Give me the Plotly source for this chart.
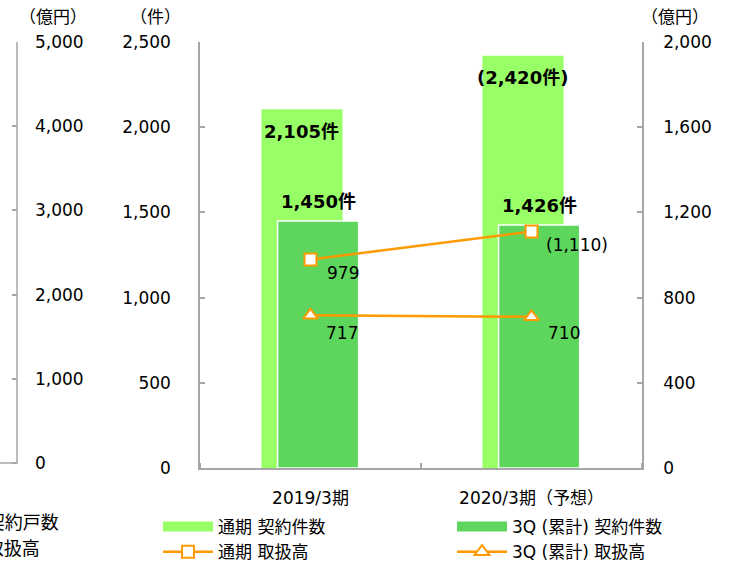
import plotly.graph_objects as go

# ---- data ----
categories = ["2019/3期", "2020/3期（予想）"]
full_counts = [2105, 2420]          # 通期 契約件数 (件)
q3_counts = [1450, 1426]            # 3Q(累計) 契約件数 (件)
full_amount = [979, 1110]           # 通期 取扱高 (億円)
q3_amount = [717, 710]              # 3Q(累計) 取扱高 (億円)
full_count_labels = ["2,105件", "(2,420件)"]
q3_count_labels = ["1,450件", "1,426件"]
full_amount_labels = ["979", "(1,110)"]
q3_amount_labels = ["717", "710"]
left_axis_ticks = [0, 1000, 2000, 3000, 4000, 5000]

W, H = 741, 561
L_PX, R_PX, T_PX, B_PX = 200, 642, 42, 468
FONT = "DejaVu Sans, Noto Sans CJK JP, sans-serif"
LIGHT = "#99FF66"
DARK = "#5ED65E"
ORANGE = "#FF9900"
AXIS = "#A6A6A6"

xs = list(range(len(categories)))
bw = 0.367
light_off = -0.222
dark_off = -0.149
light_c = light_off + bw / 2
dark_c = dark_off + bw / 2

fig = go.Figure()
# legend-only entries for bars (wide swatches)
fig.add_trace(go.Scatter(x=[None], y=[None], mode="lines", name="通期 契約件数",
                         line=dict(color=LIGHT, width=13), legendrank=1, hoverinfo="skip"))
fig.add_trace(go.Scatter(x=[None], y=[None], mode="lines", name="3Q (累計) 契約件数",
                         line=dict(color=DARK, width=13), legendrank=2, hoverinfo="skip"))
fig.add_trace(go.Bar(x=xs, y=full_counts, width=bw, offset=light_off,
                     marker=dict(color=LIGHT, line=dict(width=0)), showlegend=False))
fig.add_trace(go.Bar(x=xs, y=q3_counts, width=bw, offset=dark_off,
                     marker=dict(color=DARK, line=dict(color="white", width=1.5)), showlegend=False))
fig.add_trace(go.Scatter(x=xs, y=full_amount, yaxis="y2", mode="lines+markers", name="通期 取扱高",
                         line=dict(color=ORANGE, width=2.5), legendrank=3,
                         marker=dict(symbol="square", size=12, color="white",
                                     line=dict(color=ORANGE, width=2))))
fig.add_trace(go.Scatter(x=xs, y=q3_amount, yaxis="y2", mode="lines+markers", name="3Q (累計) 取扱高",
                         line=dict(color=ORANGE, width=2.5), legendrank=4,
                         marker=dict(symbol="triangle-up", size=13, color="white",
                                     line=dict(color=ORANGE, width=2))))
fig.add_trace(go.Scatter(x=[None], y=[None], yaxis="y3", showlegend=False, hoverinfo="skip"))

ann = []
tf = dict(family=FONT, size=18, color="black")
for i in xs:
    ann.append(dict(x=i + light_c, y=full_counts[i], text="<b>%s</b>" % full_count_labels[i],
                    showarrow=False, xanchor="center", yanchor="middle", yshift=-22, font=tf))
    ann.append(dict(x=i + dark_c, y=q3_counts[i], text="<b>%s</b>" % q3_count_labels[i],
                    showarrow=False, xanchor="center", yanchor="bottom", yshift=7, font=tf))
nf = dict(family=FONT, size=17, color="black")
shifts_full = [(14, -14), (12, -13)]
shifts_q3 = [(13, -18), (14, -16)]
for i in xs:
    ann.append(dict(x=i, y=full_amount[i], yref="y2", text=full_amount_labels[i], showarrow=False,
                    xanchor="left", yanchor="middle", xshift=shifts_full[i][0], yshift=shifts_full[i][1], font=nf))
    ann.append(dict(x=i, y=q3_amount[i], yref="y2", text=q3_amount_labels[i], showarrow=False,
                    xanchor="left", yanchor="middle", xshift=shifts_q3[i][0], yshift=shifts_q3[i][1], font=nf))

def px2x(px):
    return px / W

def py2y(py):
    return (B_PX - py) / (B_PX - T_PX)

# axis unit titles
for cx, txt in [(53, "（億円）"), (155, "（件）"), (675, "（億円）")]:
    ann.append(dict(x=px2x(cx), y=py2y(17), xref="paper", yref="paper", text=txt, showarrow=False,
                    xanchor="center", yanchor="middle", font=nf))
# cut-off legend fragments of neighbouring chart
for rx, py, txt in [(61, 522, "通期 契約戸数"), (42, 548, "通期 取扱高")]:
    ann.append(dict(x=px2x(rx), y=py2y(py), xref="paper", yref="paper", text=txt, showarrow=False,
                    xanchor="right", yanchor="middle", font=dict(family=FONT, size=18, color="black")))

shapes = [dict(type="path", xref="paper", yref="paper",
               path="M 0,%f L %f,%f L %f,1" % (py2y(463), px2x(17), py2y(463), px2x(17)),
               line=dict(color=AXIS, width=1.5))]

axis_common = dict(showline=True, linecolor=AXIS, linewidth=1.5, ticks="inside", ticklen=5,
                   tickcolor=AXIS, tickwidth=1.5, showgrid=False, zeroline=False,
                   tickfont=dict(family=FONT, size=17, color="black"), tickformat=",")

fig.update_layout(
    width=W, height=H,
    margin=dict(l=0, r=0, t=T_PX, b=H - B_PX, pad=0, autoexpand=False),
    paper_bgcolor="white", plot_bgcolor="white",
    barmode="overlay",
    showlegend=True,
    legend=dict(orientation="h", x=px2x(158), xanchor="left", y=py2y(509), yanchor="top",
                itemwidth=50, entrywidth=229, entrywidthmode="pixels",
                font=dict(family=FONT, size=17, color="black"), bgcolor="rgba(0,0,0,0)"),
    xaxis=dict(domain=[L_PX / W, R_PX / W], range=[-0.5, 1.5], tickvals=xs, ticktext=categories,
               showline=True, linecolor=AXIS, linewidth=1.5, ticks="", showgrid=False, zeroline=False,
               tickfont=dict(family=FONT, size=17, color="black"), ticklabelstandoff=14,
               minor=dict(tickvals=[-0.5, 0.5, 1.5], ticks="inside", ticklen=5, tickcolor=AXIS,
                          tickwidth=1.5, showgrid=False)),
    yaxis=dict(range=[0, 2500], dtick=500, ticklabelstandoff=24, **axis_common),
    yaxis2=dict(overlaying="y", side="right", anchor="x", range=[0, 2000], dtick=400,
                ticklabelstandoff=16, **axis_common),
    yaxis3=dict(overlaying="y", side="right", anchor="free", position=17 / W,
                range=[-5000 * 5 / 421, 5000], tickvals=left_axis_ticks, ticklabelstandoff=17,
                **{**axis_common, "showline": False}),
    annotations=ann,
    shapes=shapes,
)

fig.write_html("out.html")
